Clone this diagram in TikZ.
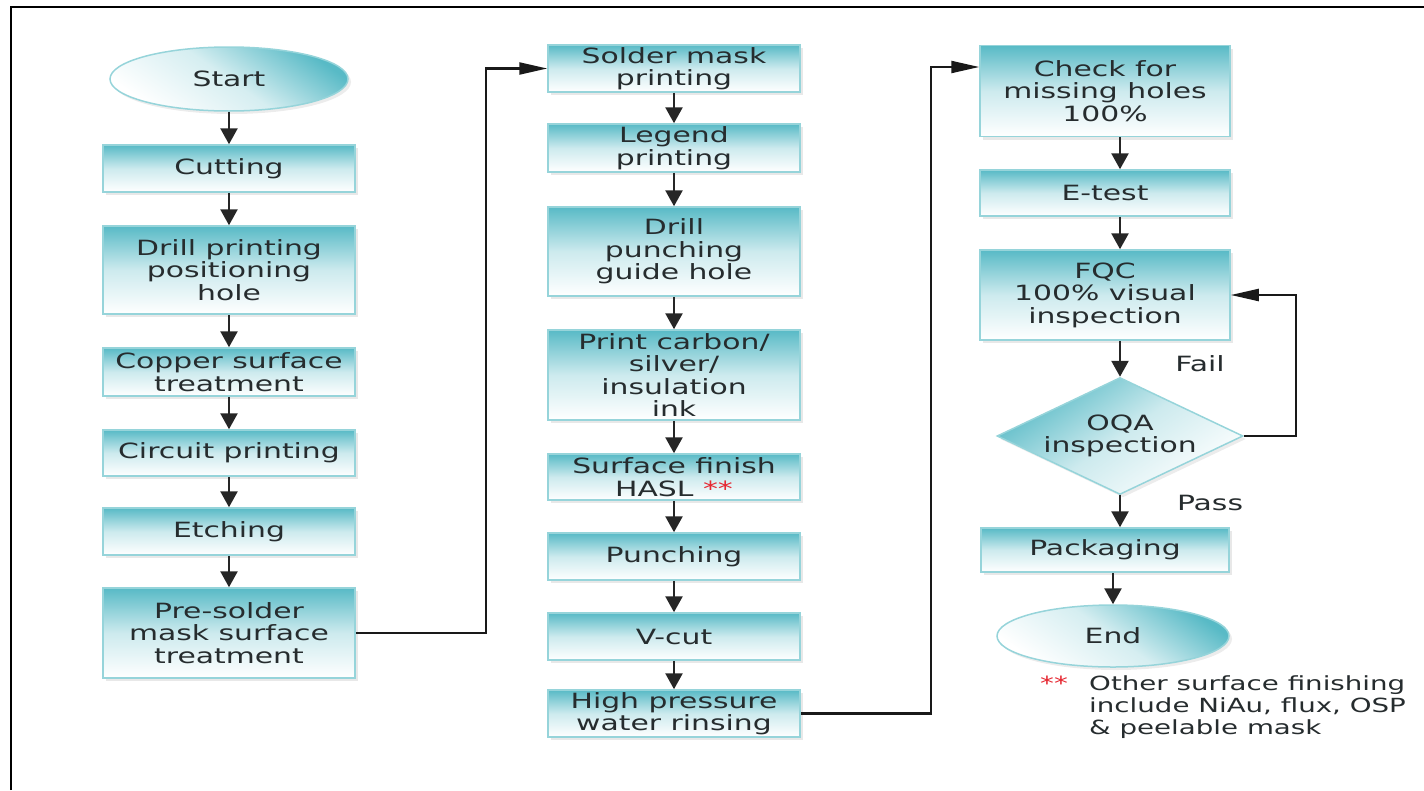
\documentclass[tikz,border=0pt]{standalone}
\usepackage{fontspec}
\setmainfont[FakeStretch=1.42]{DejaVu Sans}
\usetikzlibrary{shapes.geometric,shadows,arrows.meta}
\definecolor{tealA}{RGB}{88,186,198}
\definecolor{edgeA}{RGB}{150,212,218}
\definecolor{txtA}{RGB}{38,44,46}
\definecolor{starA}{RGB}{230,40,50}
\begin{document}
\begin{tikzpicture}[x=1pt,y=-1pt,
  font=\fontsize{21}{22.5}\selectfont, text=txtA,
  box/.style={rectangle, draw=edgeA, line width=1.5pt, top color=tealA, bottom color=white, middle color=tealA!30,
    minimum width=252pt, inner sep=0pt, align=center,
    drop shadow={opacity=0.18, shadow xshift=3pt, shadow yshift=-3pt}},
  term/.style={ellipse, draw=edgeA, line width=1.5pt, top color=tealA, bottom color=white, middle color=tealA!25,
    shading angle=-35, inner sep=0pt, align=center,
    drop shadow={opacity=0.15, shadow xshift=3pt, shadow yshift=-3pt}},
  decide/.style={diamond, aspect=2.1, draw=edgeA, line width=1.5pt, top color=tealA, bottom color=white, middle color=tealA!30,
    shading angle=35, inner sep=0pt, align=center, minimum width=246pt, minimum height=117pt,
    drop shadow={opacity=0.15, shadow xshift=3pt, shadow yshift=-3pt}},
  arr/.style={line width=2.6pt, draw=black!85, -{Triangle[length=16pt,width=17pt]}},
  longarr/.style={line width=2.2pt, draw=black!90, -{Triangle[length=28pt,width=12pt]}},
  lbl/.style={inner sep=0pt}
]
\useasboundingbox (0,0) rectangle (1424,790);
\draw[line width=2.5pt] (11,790) -- (11,7) -- (1424,7);

% column 1
\node[term, minimum width=238pt, minimum height=64pt] (start) at (229,79) {Start};
\node[box, minimum height=47pt] (cut) at (229,168.5) {Cutting};
\node[box, minimum height=88pt] (drill) at (229,270) {Drill printing\\positioning\\hole};
\node[box, minimum height=48pt] (copper) at (229,372) {Copper surface\\treatment};
\node[box, minimum height=46pt] (circuit) at (229,453) {Circuit printing};
\node[box, minimum height=47pt] (etch) at (229,531.5) {Etching};
\node[box, minimum height=90pt] (pre) at (229,633) {Pre-solder\\mask surface\\treatment};

% column 2
\node[box, minimum height=47pt] (solder) at (674,68.5) {Solder mask\\printing};
\node[box, minimum height=48pt] (legend) at (674,148) {Legend\\printing};
\node[box, minimum height=89pt] (drillp) at (674,251.5) {Drill\\punching\\guide hole};
\node[box, minimum height=90pt] (print) at (674,375) {Print carbon/\\silver/\\insulation\\ink};
\node[box, minimum height=46pt] (surf) at (674,477) {Surface finish\\HASL \textcolor{starA}{**}};
\node[box, minimum height=47pt] (punch) at (674,556.5) {Punching};
\node[box, minimum height=47pt] (vcut) at (674,636.5) {V-cut};
\node[box, minimum height=47pt] (high) at (674,713.5) {High pressure\\water rinsing};

% column 3
\node[box, minimum width=250pt, minimum height=91pt] (check) at (1105,91) {Check for\\missing holes\\100\%};
\node[box, minimum width=250pt, minimum height=46pt] (etest) at (1105,193) {E-test};
\node[box, minimum width=250pt, minimum height=90pt] (fqc) at (1105,295) {FQC\\100\% visual\\inspection};
\node[decide] (oqa) at (1120,436) {OQA\\inspection};
\node[box, minimum width=248pt, minimum height=44pt] (pack) at (1105,550) {Packaging};
\node[term, minimum width=232pt, minimum height=62pt] (end) at (1113,636) {End};

\node[lbl] (fail) at (1200,364) {Fail};
\node[lbl] (pass) at (1210,503) {Pass};

\node[lbl, anchor=north west, text=starA, font=\fontsize{19.5}{22}\selectfont] (stars) at (1040,676) {**};
\node[lbl, anchor=north west, align=left, font=\fontsize{19.5}{22}\selectfont] (note) at (1089,675) {Other surface finishing\\include NiAu, flux, OSP\\\& peelable mask};

% arrows column 1
\draw[arr] (start) -- (cut);
\draw[arr] (cut) -- (drill);
\draw[arr] (drill) -- (copper);
\draw[arr] (copper) -- (circuit);
\draw[arr] (circuit) -- (etch);
\draw[arr] (etch) -- (pre);
% column 2
\draw[arr] (solder) -- (legend);
\draw[arr] (legend) -- (drillp);
\draw[arr] (drillp) -- (print);
\draw[arr] (print) -- (surf);
\draw[arr] (surf) -- (punch);
\draw[arr] (punch) -- (vcut);
\draw[arr] (vcut) -- (high);
% column 3
\draw[arr] ([xshift=15pt]check.south) -- ([xshift=15pt]etest.north);
\draw[arr] ([xshift=15pt]etest.south) -- ([xshift=15pt]fqc.north);
\draw[arr] ([xshift=15pt]fqc.south) -- (oqa.north);
\draw[arr] (oqa.south) -- ([xshift=15pt]pack.north);
\draw[arr] ([xshift=8pt]pack.south) -- (end.north);
% long connectors
\draw[longarr] (pre.east) -- ++(130,0) |- (solder.west);
\draw[longarr] (high.east) -- ++(130,0) |- ([yshift=24pt]check.west);
\draw[longarr] (oqa.east) -- ++(52,0) |- (fqc.east);
\end{tikzpicture}
\end{document}
